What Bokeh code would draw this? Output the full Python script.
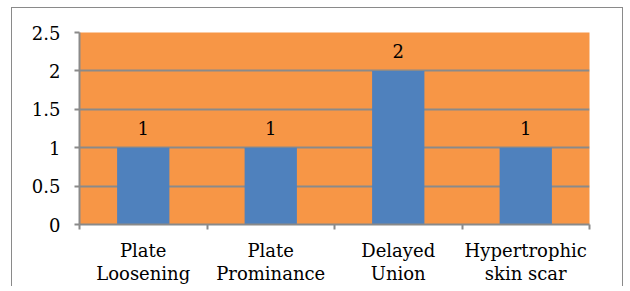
from bokeh.plotting import figure
from bokeh.models import ColumnDataSource, FixedTicker, CustomJSTickFormatter, Range1d, LabelSet
from bokeh.core.properties import value
from bokeh.embed import file_html
from bokeh.resources import INLINE

categories = ["Plate\nLoosening", "Plate\nProminance", "Delayed\nUnion", "Hypertrophic\nskin scar"]
values = [1, 1, 2, 1]
y_ticks = [0, 0.5, 1, 1.5, 2, 2.5]

xs = [i + 0.5 for i in range(len(categories))]
src = ColumnDataSource(dict(x=xs, top=values, label=[str(v) for v in values]))

FONT = "DejaVu Serif"
GRAY = "#8a8a8a"

p = figure(width=610, height=275, frame_width=510, frame_height=192,
           min_border_left=67, min_border_right=33, min_border_top=24, min_border_bottom=59,
           x_range=Range1d(0, len(categories)), y_range=Range1d(0, 2.5),
           output_backend="svg", toolbar_location=None, tools="")
p.margin = (7, 0, 0, 11)
p.styles = {"border-left": "1.5px solid #8a8a8a", "border-top": "1.5px solid #8a8a8a",
            "border-right": "1.5px solid #8a8a8a"}

p.background_fill_color = "#F79646"
p.border_fill_color = "white"
p.outline_line_color = None

p.vbar(x="x", top="top", width=0.41, source=src, color="#4F81BD", line_color=None)

labels = LabelSet(x="x", y="top", text="label", source=src, text_align="center",
                  text_baseline="bottom", y_offset=13, text_font=value(FONT),
                  text_font_size="18px", text_color="black")
p.add_layout(labels)

p.xgrid.visible = False
p.ygrid.ticker = FixedTicker(ticks=y_ticks)
p.ygrid.grid_line_color = GRAY
p.ygrid.grid_line_width = 2

yax = p.yaxis[0]
yax.ticker = FixedTicker(ticks=y_ticks)
yax.formatter = CustomJSTickFormatter(code="return tick.toString();")
yax.axis_line_color = GRAY
yax.axis_line_width = 2
yax.major_tick_line_color = GRAY
yax.major_tick_line_width = 2
yax.major_tick_in = 0
yax.major_tick_out = 5
yax.minor_tick_line_color = None
yax.major_label_standoff = 14
yax.major_label_text_font = FONT
yax.major_label_text_font_size = "18px"
yax.major_label_text_color = "black"

xax = p.xaxis[0]
xax.ticker = FixedTicker(ticks=xs, minor_ticks=list(range(len(categories) + 1)))
xax.major_label_overrides = {x: c for x, c in zip(xs, categories)}
xax.axis_line_color = GRAY
xax.axis_line_width = 2
xax.major_tick_line_color = None
xax.major_tick_in = 0
xax.major_tick_out = 0
xax.minor_tick_line_color = GRAY
xax.minor_tick_line_width = 2
xax.minor_tick_in = 0
xax.minor_tick_out = 5
xax.major_label_standoff = 10
xax.major_label_text_font = FONT
xax.major_label_text_font_size = "18px"
xax.major_label_text_color = "black"
xax.major_label_text_line_height = 1.1

open("out.html", "w").write(file_html(p, INLINE))
